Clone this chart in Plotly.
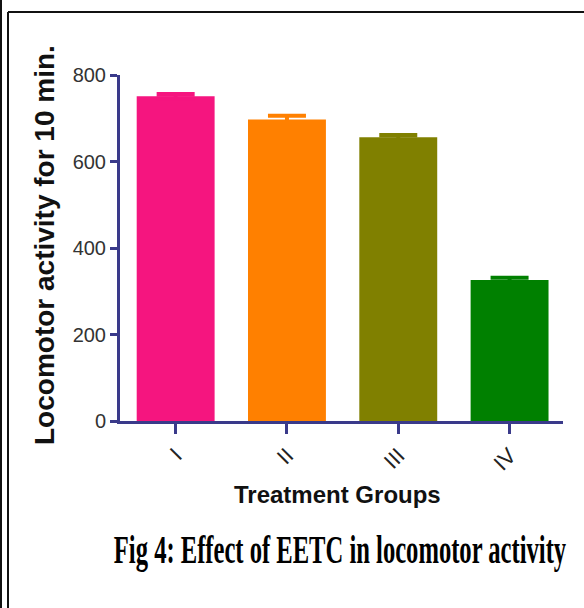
import plotly.graph_objects as go

groups = ["I", "II", "III", "IV"]
means = [751, 697, 656, 326]
sems = [5, 9, 5, 5]
colors = ["#F5157F", "#FF8000", "#808000", "#008000"]
y_ticks = [0, 200, 400, 600, 800]

axis_color = "#3A3A8A"

# plot area in pixels
L, R, T, B = 120, 563, 75, 421
W, H = R - L, B - T

def px_x(x):
    return (x - L) / W

def px_y(y):
    return (B - y) / H

fig = go.Figure()
for g, m, s, c in zip(groups, means, sems, colors):
    fig.add_trace(go.Bar(
        x=[g], y=[m],
        marker=dict(color=c, line=dict(width=0)),
        width=0.70,
        error_y=dict(type="data", array=[s], visible=True, color=c, thickness=4, width=19),
        showlegend=False,
    ))

fig.update_layout(
    width=584, height=608,
    margin=dict(l=L, r=584 - R, t=T, b=608 - B),
    paper_bgcolor="white", plot_bgcolor="white",
    xaxis=dict(
        range=[-0.5, 3.48],
        showline=True, linecolor=axis_color, linewidth=3,
        ticks="outside", ticklen=10, tickwidth=3, tickcolor=axis_color,
        tickangle=-45,
        tickfont=dict(family="Liberation Sans, Arial", size=22, color="#222222"),
        showgrid=False, zeroline=False,
    ),
    yaxis=dict(
        range=[0, 800], tickvals=y_ticks,
        showline=True, linecolor=axis_color, linewidth=3,
        ticks="outside", ticklen=7, tickwidth=3, tickcolor=axis_color,
        tickfont=dict(family="Liberation Sans, Arial", size=20, color="#333333"),
        showgrid=False, zeroline=False,
    ),
    font=dict(family="Liberation Sans, Arial"),
)

fig.add_annotation(
    text="<b>Locomotor activity for 10 min.</b>",
    xref="paper", yref="paper", x=px_x(44), y=px_y(245),
    xanchor="center", yanchor="middle", textangle=-90, showarrow=False,
    font=dict(family="Liberation Sans, Arial", size=28, color="#111111"),
)

fig.add_annotation(
    text="<b>Treatment Groups</b>",
    xref="paper", yref="paper", x=px_x(337), y=px_y(494),
    xanchor="center", yanchor="middle", showarrow=False,
    font=dict(family="Liberation Sans, Arial", size=24, color="#111111"),
)

fig.add_annotation(
    text="<b>Fig 4: Effect of EETC in locomotor activity</b>",
    xref="paper", yref="paper", x=px_x(340), y=px_y(549),
    xanchor="center", yanchor="middle", showarrow=False,
    font=dict(family="Liberation Serif, Times New Roman", size=40, color="#000000"),
)

# frame lines of the original figure box
fig.add_shape(type="line", xref="paper", yref="paper",
              x0=px_x(8), x1=px_x(584), y0=px_y(12), y1=px_y(12),
              line=dict(color="#111111", width=2))
fig.add_shape(type="line", xref="paper", yref="paper",
              x0=px_x(8), x1=px_x(8), y0=px_y(12), y1=px_y(608),
              line=dict(color="#111111", width=2))
fig.add_shape(type="line", xref="paper", yref="paper",
              x0=px_x(1), x1=px_x(1), y0=px_y(0), y1=px_y(608),
              line=dict(color="#111111", width=2))

post = """
document.body.style.margin='0';
function squeeze(){
  document.querySelectorAll('text.annotation-text').forEach(function(t){
    if (t.textContent.indexOf('Fig 4') === 0) {
      t.style.transformBox = 'fill-box';
      t.style.transformOrigin = 'center';
      t.style.transform = 'scaleX(0.615)';
    }
  });
}
squeeze();
var gd = document.getElementById('{plot_id}');
if (gd && gd.on) { gd.on('plotly_afterplot', squeeze); }
"""

fig.write_html("out.html", post_script=post, config={"displayModeBar": False})
